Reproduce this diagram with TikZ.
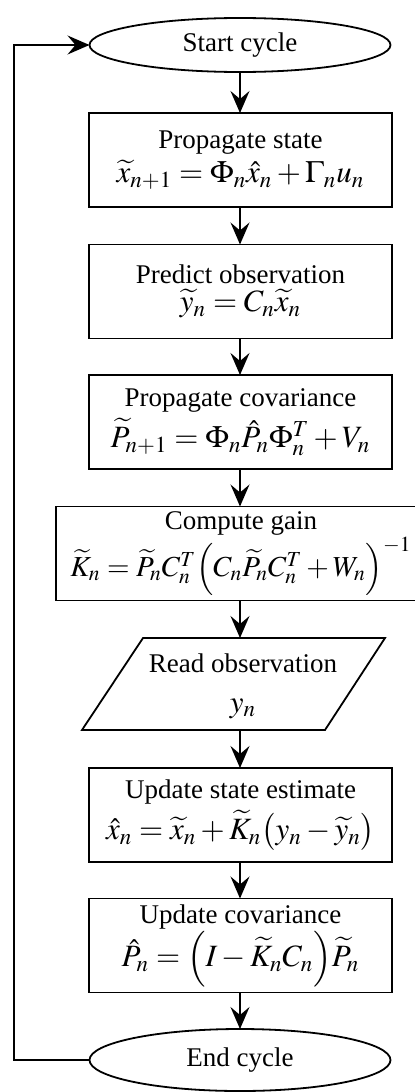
\documentclass[tikz,border=0pt]{standalone}
\usepackage{mathptmx}
\usepackage{fontspec}
\setmainfont{Liberation Serif}
\usetikzlibrary{shapes.geometric,arrows.meta}
\newcommand{\txt}{\fontsize{13.5}{16}\selectfont}
\newcommand{\mth}{\fontsize{15.5}{18}\selectfont}
\newcommand{\mthsmall}{\fontsize{14.5}{17}\selectfont}
\begin{document}
\begin{tikzpicture}[x=0.5pt,y=-0.5pt,
  every node/.style={inner sep=0pt, outer sep=0pt},
  termbox/.style={draw, ellipse, line width=0.9pt, minimum width=150.5pt, font=\txt},
  procbox/.style={draw, rectangle, line width=0.9pt, minimum width=151.5pt, minimum height=47pt, align=center},
  iobox/.style={line width=0.9pt, line join=miter},
  flow/.style={line width=0.9pt, -{Stealth[length=11pt, width=9.5pt, inset=4pt]}}
]
\useasboundingbox (0,0) rectangle (415,1092);
\node[termbox, minimum height=27pt] (start) at (240,45) {Start cycle};
\node[procbox] (b1) at (240.5,160) {\txt Propagate state\\[2pt]\mth $\widetilde{x}_{n+1}=\Phi_n\hat{x}_n+\Gamma_n u_n$};
\node[procbox] (b2) at (240.5,291.5) {\txt Predict observation\\[2pt]\mth $\widetilde{y}_n=C_n\widetilde{x}_n$};
\node[procbox] (b3) at (240.5,422) {\txt Propagate covariance\\[2pt]\mth $\widetilde{P}_{n+1}=\Phi_n\hat{P}_n\Phi_n^T+V_n$};
\node[procbox, minimum width=184pt] (b4) at (240,553.5) {};
\node[align=center] (b4txt) at (241,553.5) {\txt Compute gain\\[0pt]\mthsmall $\widetilde{K}_n=\widetilde{P}_nC_n^T\Bigl(C_n\widetilde{P}_nC_n^T+W_n\Bigr)^{-1}$};
\node[align=center, minimum width=151.5pt, minimum height=46pt] (read) at (243,686) {\txt Read observation\\[8pt]\mth $y_n$};
\coordinate (rtl) at (143,638);
\coordinate (rtr) at (385,638);
\coordinate (rbr) at (325,730);
\coordinate (rbl) at (82,730);
\draw[iobox] (rtl) -- (rtr) -- (rbr) -- (rbl) -- cycle;
\node[procbox] (b6) at (240.5,815) {\txt Update state estimate\\[2pt]\mth $\hat{x}_n=\widetilde{x}_n+\widetilde{K}_n\bigl(y_n-\widetilde{y}_n\bigr)$};
\node[procbox] (b7) at (240.5,945.5) {\txt Update covariance\\[0pt]\mth $\hat{P}_n=\Bigl(I-\widetilde{K}_nC_n\Bigr)\widetilde{P}_n$};
\node[termbox, minimum height=31pt] (end) at (240,1060) {End cycle};
\coordinate (loopcorner) at (14,1060);
\draw[flow] (start) -- (start |- b1.north);
\draw[flow] (b1.south -| start) -- (start |- b2.north);
\draw[flow] (b2.south -| start) -- (start |- b3.north);
\draw[flow] (b3.south -| start) -- (b4.north);
\draw[flow] (b4.south) -- (b4.south |- rtl);
\draw[flow] (b4.south |- rbl) -- (b4.south |- b6.north);
\draw[flow] (b4.south |- b6.south) -- (b4.south |- b7.north);
\draw[flow] (b4.south |- b7.south) -- (end);
\draw[flow] (end.west) -- (loopcorner) |- (start.west);
\end{tikzpicture}
\end{document}
